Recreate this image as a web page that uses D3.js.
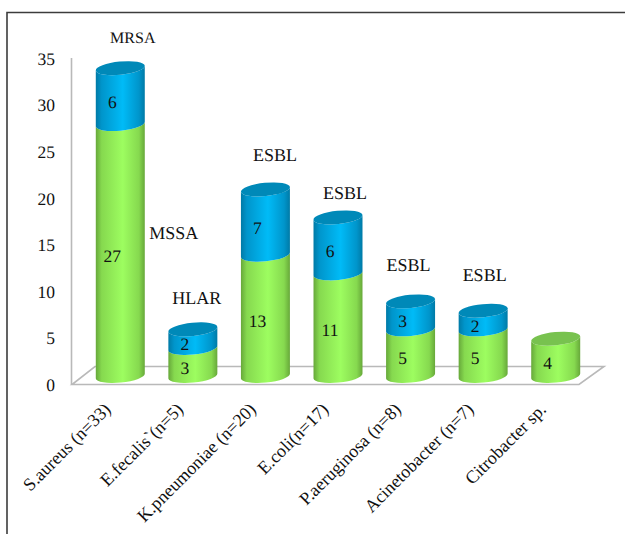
<!DOCTYPE html>
<html>
<head>
<meta charset="utf-8">
<style>
  html, body { margin: 0; padding: 0; background: #fff; }
  svg { display: block; }
  text { font-family: "Liberation Serif", serif; fill: #111; text-rendering: geometricPrecision; }
</style>
<script src="https://cdn.jsdelivr.net/npm/d3@7/dist/d3.min.js"></script>
</head>
<body>
<svg id="chart" width="625" height="534"></svg>
<script>
// Isolates per organism: susceptible (green) and resistant (blue) counts
const categories = ["S.aureus (n=33)", "E.fecalis`(n=5)", "K.pneumoniae (n=20)", "E.coli(n=17)",
                    "P.aeruginosa (n=8)", "Acinetobacter (n=7)", "Citrobacter sp."];
const lowerValues = [27, 3, 13, 11, 5, 5, 4];
const upperValues = [6, 2, 7, 6, 3, 2, 0];
const tickValues = [0, 5, 10, 15, 20, 25, 30, 35];
const upperTags = ["MRSA", "HLAR", "ESBL", "ESBL", "ESBL", "ESBL", ""];
const lowerTags = ["MSSA", "", "", "", "", "", ""];

const svg = d3.select("#chart");

const y = d3.scaleLinear().domain([0, 35]).range([384.5, 58]);
const x = d3.scaleBand().domain(categories).range([84, 592])
  .paddingInner(0.325).paddingOuter(0.1625);

// Offsets of the 3D box: the bars stand in the middle of the floor's depth
const depth = { dx: 23, dy: -18 };
const barLift = -8.5;
const capRy = 6.6, capTilt = -5.6;

// Horizontal shading that gives the cylinders their round look
const defs = svg.append("defs");
function shade(id, edge, mid, dark) {
  const g = defs.append("linearGradient").attr("id", id);
  [[0, dark], [0.12, edge], [0.55, mid], [0.88, edge], [1, dark]].forEach(([o, c]) =>
    g.append("stop").attr("offset", o).attr("stop-color", c));
}
shade("sideGreen", "#86d94f", "#9dfd60", "#67a83a");
shade("sideBlue", "#0095cb", "#00bbf7", "#007aa6");

// Outer frame: left and top edges only
svg.append("path")
  .attr("d", "M7 534V12.5H625")
  .attr("fill", "none").attr("stroke", "#3c3c3c").attr("stroke-width", 1.6);

// Floor and vertical axis
const floorStroke = "#b9b9b9";
const x0 = 72, x1 = 579;
const y0 = y(0);
svg.append("path")
  .attr("d", `M${x0} ${y0}H${x1}L${x1 + depth.dx + 2} ${y0 + depth.dy}H${x0 + depth.dx}Z`)
  .attr("fill", "none").attr("stroke", floorStroke).attr("stroke-width", 1.6);
svg.append("line")
  .attr("x1", 71.5).attr("x2", 71.5).attr("y1", y(35)).attr("y2", y0)
  .attr("stroke", floorStroke).attr("stroke-width", 1.6);

const axis = d3.axisLeft(y).tickValues(tickValues).tickSize(0).tickPadding(0);
const axisG = svg.append("g").attr("transform", "translate(55,0.5)").call(axis);
axisG.select(".domain").remove();
axisG.selectAll("text").style("font-family", '"Liberation Serif", serif')
  .style("font-size", "17.5px").attr("fill", "#111");

const barY = v => y(v) + barLift;
const rows = categories.map((c, i) => ({ c, lower: lowerValues[i], upper: upperValues[i] }));
const bars = svg.append("g").selectAll("g").data(rows).join("g");

// Side wall: straight edges closed by the front half of the ellipse at both ends
function sidePath(bx, w, yBottom, yTop) {
  const t = capTilt * Math.PI / 180;
  const rx = w / 2 / Math.cos(t);
  const s = (w / 2) * Math.tan(t);
  return `M${bx} ${yTop - s}A${rx} ${capRy} ${capTilt} 0 0 ${bx + w} ${yTop + s}` +
         `V${yBottom + s}A${rx} ${capRy} ${capTilt} 0 1 ${bx} ${yBottom - s}Z`;
}

bars.append("path")
  .attr("d", d => sidePath(x(d.c), x.bandwidth(), barY(0), barY(d.lower)))
  .attr("fill", "url(#sideGreen)");
bars.filter(d => d.upper > 0).append("path")
  .attr("d", d => sidePath(x(d.c), x.bandwidth(), barY(d.lower), barY(d.lower + d.upper)))
  .attr("fill", "url(#sideBlue)");

// Lid on top of each stack
bars.append("ellipse")
  .attr("rx", x.bandwidth() / 2 / Math.cos(capTilt * Math.PI / 180))
  .attr("ry", capRy)
  .attr("transform", d => `translate(${x(d.c) + x.bandwidth() / 2},${barY(d.lower + d.upper)}) rotate(${capTilt})`)
  .attr("fill", d => d.upper > 0 ? "#0089b8" : "#78c24f");

// Value labels sit a little left of each cylinder's centre
const labelDx = -8, labelDy = 5.5;
const labelFont = "17.5px";
bars.append("text")
  .attr("x", d => x(d.c) + x.bandwidth() / 2 + labelDx)
  .attr("y", d => barY(d.lower / 2) + labelDy)
  .attr("dy", "0.35em").attr("text-anchor", "middle").style("font-size", labelFont)
  .text(d => d.lower);
bars.filter(d => d.upper > 0).append("text")
  .attr("x", d => x(d.c) + x.bandwidth() / 2 + labelDx)
  .attr("y", d => barY(d.lower + d.upper / 2) + labelDy)
  .attr("dy", "0.35em").attr("text-anchor", "middle").style("font-size", labelFont)
  .text(d => d.upper);

// Resistance tags above the stacks
const tagLift = [31, 32, 35, 25, 37, 36, 0];
const tagShift = [12.5, 4, 9.5, 7, -2, 1.5, 0];
const tagSize = [16, 18, 18, 18, 18, 18, 18];
svg.append("g").selectAll("text").data(rows).join("text")
  .attr("x", (d, i) => x(d.c) + x.bandwidth() / 2 + tagShift[i])
  .attr("y", (d, i) => barY(d.lower + d.upper) - tagLift[i])
  .attr("dy", "0.35em").attr("text-anchor", "middle")
  .style("font-size", (d, i) => tagSize[i] + "px")
  .text((d, i) => upperTags[i]);

// Label beside the lower part of the first stack
svg.append("text")
  .attr("x", x(categories[0]) + x.bandwidth() + 29)
  .attr("y", barY(lowerValues[0] / 2) - 17)
  .attr("dy", "0.35em").attr("text-anchor", "middle").style("font-size", "18px")
  .text(lowerTags[0]);

// Slanted category labels, ending under each cylinder
svg.append("g").selectAll("text").data(categories).join("text")
  .attr("text-anchor", "end")
  .attr("transform", d => `translate(${x(d) + x.bandwidth() / 2 - 8.5},${y0 + 26}) rotate(-45)`)
  .style("font-size", "18px")
  .text(d => d);
</script>
</body>
</html>
